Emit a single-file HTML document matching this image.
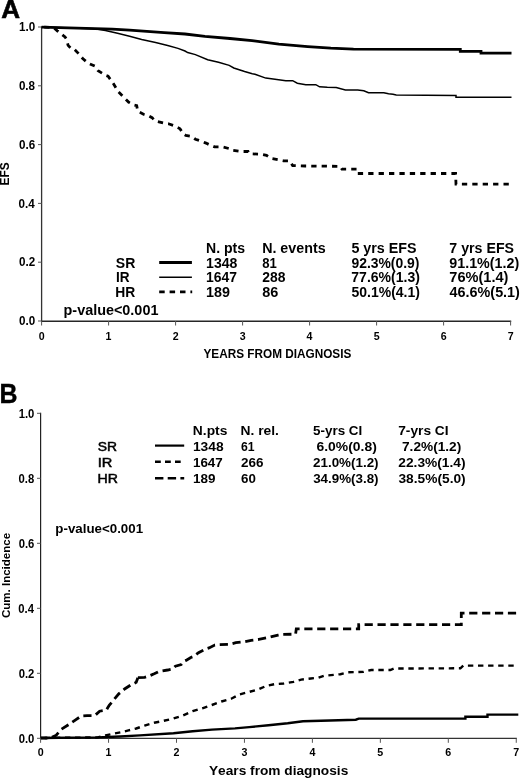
<!DOCTYPE html>
<html><head><meta charset="utf-8"><title>Chart</title>
<style>
html,body{margin:0;padding:0;background:#fff;}
body{width:520px;height:778px;overflow:hidden;}
svg{display:block;filter:grayscale(1);}
text{font-family:"Liberation Sans",sans-serif;fill:#000;font-kerning:none;}
.t{}
.n{stroke:#000;stroke-width:0.5px;}
</style></head>
<body>
<svg width="520" height="778" viewBox="0 0 520 778">
<rect x="0" y="0" width="520" height="778" fill="#fff"/>
<text x="1.25" y="17.8" font-size="26.6" font-weight="bold" textLength="18.84" lengthAdjust="spacingAndGlyphs" style="stroke:#000;stroke-width:0.6px">A</text>
<line x1="41.6" y1="26.5" x2="41.6" y2="321.6" stroke="#333" stroke-width="1.3"/>
<line x1="41" y1="321.2" x2="511.2" y2="321.2" stroke="#262626" stroke-width="1.4"/>
<line x1="38" y1="321" x2="41.6" y2="321" stroke="#555" stroke-width="1"/>
<text x="19" y="325.25" font-size="12" font-weight="bold" textLength="16.18" lengthAdjust="spacingAndGlyphs">0.0</text>
<line x1="38" y1="262.2" x2="41.6" y2="262.2" stroke="#555" stroke-width="1"/>
<text x="18.98" y="266.45" font-size="12" font-weight="bold" textLength="16.18" lengthAdjust="spacingAndGlyphs">0.2</text>
<line x1="38" y1="203.4" x2="41.6" y2="203.4" stroke="#555" stroke-width="1"/>
<text x="18.58" y="207.65" font-size="12" font-weight="bold" textLength="16.18" lengthAdjust="spacingAndGlyphs">0.4</text>
<line x1="38" y1="144.6" x2="41.6" y2="144.6" stroke="#555" stroke-width="1"/>
<text x="18.94" y="148.85" font-size="12" font-weight="bold" textLength="16.18" lengthAdjust="spacingAndGlyphs">0.6</text>
<line x1="38" y1="85.8" x2="41.6" y2="85.8" stroke="#555" stroke-width="1"/>
<text x="18.88" y="90.05" font-size="12" font-weight="bold" textLength="16.18" lengthAdjust="spacingAndGlyphs">0.8</text>
<line x1="38" y1="27" x2="41.6" y2="27" stroke="#555" stroke-width="1"/>
<text x="19" y="31.25" font-size="12" font-weight="bold" textLength="16.18" lengthAdjust="spacingAndGlyphs">1.0</text>
<line x1="41.6" y1="321" x2="41.6" y2="325.5" stroke="#555" stroke-width="1"/>
<text x="38.65" y="339.7" font-size="11.8" font-weight="bold" textLength="5.91" lengthAdjust="spacingAndGlyphs">0</text>
<line x1="108.6" y1="321" x2="108.6" y2="325.5" stroke="#555" stroke-width="1"/>
<text x="105.46" y="339.7" font-size="11.8" font-weight="bold" textLength="5.91" lengthAdjust="spacingAndGlyphs">1</text>
<line x1="175.6" y1="321" x2="175.6" y2="325.5" stroke="#555" stroke-width="1"/>
<text x="172.68" y="339.7" font-size="11.8" font-weight="bold" textLength="5.91" lengthAdjust="spacingAndGlyphs">2</text>
<line x1="242.6" y1="321" x2="242.6" y2="325.5" stroke="#555" stroke-width="1"/>
<text x="239.72" y="339.7" font-size="11.8" font-weight="bold" textLength="5.91" lengthAdjust="spacingAndGlyphs">3</text>
<line x1="309.6" y1="321" x2="309.6" y2="325.5" stroke="#555" stroke-width="1"/>
<text x="306.59" y="339.7" font-size="11.8" font-weight="bold" textLength="5.91" lengthAdjust="spacingAndGlyphs">4</text>
<line x1="376.6" y1="321" x2="376.6" y2="325.5" stroke="#555" stroke-width="1"/>
<text x="373.63" y="339.7" font-size="11.8" font-weight="bold" textLength="5.91" lengthAdjust="spacingAndGlyphs">5</text>
<line x1="443.6" y1="321" x2="443.6" y2="325.5" stroke="#555" stroke-width="1"/>
<text x="440.64" y="339.7" font-size="11.8" font-weight="bold" textLength="5.91" lengthAdjust="spacingAndGlyphs">6</text>
<line x1="510.6" y1="321" x2="510.6" y2="325.5" stroke="#555" stroke-width="1"/>
<text x="507.65" y="339.7" font-size="11.8" font-weight="bold" textLength="5.91" lengthAdjust="spacingAndGlyphs">7</text>
<text transform="rotate(-90)" x="-185.5" y="8.6" font-size="12" font-weight="bold" textLength="23.27" lengthAdjust="spacingAndGlyphs">EFS</text>
<text x="203.5" y="357.8" font-size="12.5" font-weight="bold" textLength="147.86" lengthAdjust="spacingAndGlyphs">YEARS FROM DIAGNOSIS</text>
<text x="206.06" y="252.5" font-size="13.9" font-weight="bold" textLength="39.02" lengthAdjust="spacingAndGlyphs" class="t">N. pts</text>
<text x="262.15" y="252.5" font-size="13.9" font-weight="bold" textLength="63.44" lengthAdjust="spacingAndGlyphs" class="t">N. events</text>
<text x="351.46" y="252.6" font-size="13.9" font-weight="bold" textLength="65.1" lengthAdjust="spacingAndGlyphs" class="t">5 yrs EFS</text>
<text x="449.39" y="252.5" font-size="13.9" font-weight="bold" textLength="64.66" lengthAdjust="spacingAndGlyphs" class="t">7 yrs EFS</text>
<text x="115.8" y="267.6" font-size="13.9" font-weight="bold" textLength="19.49" lengthAdjust="spacingAndGlyphs" class="t">SR</text>
<text x="115.89" y="282" font-size="13.9" font-weight="bold" textLength="13.59" lengthAdjust="spacingAndGlyphs" class="t">IR</text>
<text x="115.27" y="296.5" font-size="13.9" font-weight="bold" textLength="20.01" lengthAdjust="spacingAndGlyphs" class="t">HR</text>
<text x="206.11" y="267.6" font-size="13.9" font-weight="bold" textLength="31.32" lengthAdjust="spacingAndGlyphs" class="t">1348</text>
<text x="206.12" y="282" font-size="13.9" font-weight="bold" textLength="30.99" lengthAdjust="spacingAndGlyphs" class="t">1647</text>
<text x="206.1" y="296.5" font-size="13.9" font-weight="bold" textLength="23.94" lengthAdjust="spacingAndGlyphs" class="t">189</text>
<text x="262.28" y="267.6" font-size="13.9" font-weight="bold" textLength="14.58" lengthAdjust="spacingAndGlyphs" class="t">81</text>
<text x="262.22" y="282" font-size="13.9" font-weight="bold" textLength="23.21" lengthAdjust="spacingAndGlyphs" class="t">288</text>
<text x="262.24" y="296.5" font-size="13.9" font-weight="bold" textLength="16.08" lengthAdjust="spacingAndGlyphs" class="t">86</text>
<text x="351.42" y="267.6" font-size="13.9" font-weight="bold" textLength="68.08" lengthAdjust="spacingAndGlyphs" class="t">92.3%(0.9)</text>
<text x="351.3" y="282" font-size="13.9" font-weight="bold" textLength="68.6" lengthAdjust="spacingAndGlyphs" class="t">77.6%(1.3)</text>
<text x="351.47" y="296.5" font-size="13.9" font-weight="bold" textLength="68.43" lengthAdjust="spacingAndGlyphs" class="t">50.1%(4.1)</text>
<text x="449.3" y="267.6" font-size="13.9" font-weight="bold" textLength="69.91" lengthAdjust="spacingAndGlyphs" class="t">91.1%(1.2)</text>
<text x="449.37" y="282" font-size="13.9" font-weight="bold" textLength="59.05" lengthAdjust="spacingAndGlyphs" class="t">76%(1.4)</text>
<text x="449.58" y="296.5" font-size="13.9" font-weight="bold" textLength="70.33" lengthAdjust="spacingAndGlyphs" class="t">46.6%(5.1)</text>
<line x1="159.2" y1="262.6" x2="191.9" y2="262.6" stroke="#000" stroke-width="3"/>
<line x1="159.2" y1="277.2" x2="191.9" y2="277.2" stroke="#000" stroke-width="1.5"/>
<line x1="159.2" y1="291.8" x2="192.2" y2="291.8" stroke="#000" stroke-width="2.8" stroke-dasharray="5.5 4.9"/>
<text x="63.55" y="314.5" font-size="13.8" font-weight="bold" textLength="94.85" lengthAdjust="spacingAndGlyphs">p-value&lt;0.001</text>
<polyline points="41.6,27.1 53.5,27.5 57.3,30.8 65,36.9 66.5,39.2 68.1,45.4 71.2,48.5 74.2,49.2 78.1,53.1 82.7,58.5 88.1,63.1 95,66.2 98.1,70.8 105.8,75.4 108.1,76.2 113.5,83.8 118.1,91.5 124.2,97.7 128.8,102.3 133.5,104.8 136.7,105.6 137.7,111.3 143.5,114.2 149.2,116.2 152.1,117.7 155,121 158.8,121.9 165.6,123.5 168.5,123.8 174.2,125.8 180,128.7 182.9,133.5 185.8,135.4 191.5,136.3 195.4,139.2 201.2,141.2 206,143.1 210.8,145.4 214.6,146.9 222.3,146.9 230,148.8 231.2,150 241.9,151.5 248.1,151.5 249.6,153.8 260.4,154.2 266.5,155.4 271.2,158.5 283.5,160.8 289.6,160.8 292.7,165.6 305,166 340.2,166.3 342,169.2 357,169.2 357.5,173.5 455.6,173.5 456,184.2 509.8,184.2" fill="none" stroke="#000" stroke-width="2.8" stroke-linejoin="miter" stroke-linecap="butt" stroke-dasharray="5.3 5.1" stroke-dashoffset="7.76"/>
<polyline points="41.6,27.1 95,28.8 105.4,30.5 117.5,33.3 129.6,36.3 141.7,39.4 155.6,42.6 167.7,45.6 178,48.4 185,51 187.7,52.6 195.4,54.6 207.7,59.7 218.5,62.3 229.2,65.4 233.8,68 244.6,71.5 252.3,73.8 255,74.2 265.8,78.1 275,79.3 285.8,80.7 292.7,80.7 297.3,83.2 305.8,84.7 315.8,84.7 319.6,86.8 327.3,87.3 336.2,87.6 345.4,89.9 357.7,89.9 363.8,90.7 368.5,92.7 383.8,92.7 388.5,93.8 393,94.2 396.2,95 456,95.6 456,97.2 511.5,97.2" fill="none" stroke="#000" stroke-width="1.5" stroke-linejoin="miter" stroke-linecap="butt"/>
<polyline points="41.6,27.1 95,28.7 112.3,29.1 129.6,30.1 146.9,31.3 164.2,32.7 185,34 205,36.4 230,38.5 252,40.6 278.8,44.2 307.7,46.6 330.8,48.2 353.5,49.2 460.3,49.4 460.3,51.3 481,51.3 481,53.1 511.5,53.1" fill="none" stroke="#000" stroke-width="2.8" stroke-linejoin="miter" stroke-linecap="butt"/>
<text x="-0.57" y="403.3" font-size="27" font-weight="bold" textLength="18" lengthAdjust="spacingAndGlyphs" style="stroke:#000;stroke-width:0.4px">B</text>
<line x1="40.6" y1="412.8" x2="40.6" y2="738.9" stroke="#222" stroke-width="1.2"/>
<line x1="40" y1="738.3" x2="516.85" y2="738.3" stroke="#333" stroke-width="1.3"/>
<line x1="37" y1="738.3" x2="40.6" y2="738.3" stroke="#555" stroke-width="1"/>
<text x="18.68" y="742.55" font-size="12" font-weight="bold" textLength="15.68" lengthAdjust="spacingAndGlyphs">0.0</text>
<line x1="37" y1="673.3" x2="40.6" y2="673.3" stroke="#555" stroke-width="1"/>
<text x="18.67" y="677.55" font-size="12" font-weight="bold" textLength="15.68" lengthAdjust="spacingAndGlyphs">0.2</text>
<line x1="37" y1="608.3" x2="40.6" y2="608.3" stroke="#555" stroke-width="1"/>
<text x="18.28" y="612.55" font-size="12" font-weight="bold" textLength="15.68" lengthAdjust="spacingAndGlyphs">0.4</text>
<line x1="37" y1="543.3" x2="40.6" y2="543.3" stroke="#555" stroke-width="1"/>
<text x="18.63" y="547.55" font-size="12" font-weight="bold" textLength="15.68" lengthAdjust="spacingAndGlyphs">0.6</text>
<line x1="37" y1="478.3" x2="40.6" y2="478.3" stroke="#555" stroke-width="1"/>
<text x="18.57" y="482.55" font-size="12" font-weight="bold" textLength="15.68" lengthAdjust="spacingAndGlyphs">0.8</text>
<line x1="37" y1="413.3" x2="40.6" y2="413.3" stroke="#555" stroke-width="1"/>
<text x="18.68" y="417.55" font-size="12" font-weight="bold" textLength="15.68" lengthAdjust="spacingAndGlyphs">1.0</text>
<line x1="40.6" y1="738.3" x2="40.6" y2="742.8" stroke="#555" stroke-width="1"/>
<text x="37.64" y="755.8" font-size="11.6" font-weight="bold" textLength="5.94" lengthAdjust="spacingAndGlyphs">0</text>
<line x1="108.55" y1="738.3" x2="108.55" y2="742.8" stroke="#555" stroke-width="1"/>
<text x="105.39" y="755.8" font-size="11.6" font-weight="bold" textLength="5.94" lengthAdjust="spacingAndGlyphs">1</text>
<line x1="176.5" y1="738.3" x2="176.5" y2="742.8" stroke="#555" stroke-width="1"/>
<text x="173.56" y="755.8" font-size="11.6" font-weight="bold" textLength="5.94" lengthAdjust="spacingAndGlyphs">2</text>
<line x1="244.45" y1="738.3" x2="244.45" y2="742.8" stroke="#555" stroke-width="1"/>
<text x="241.55" y="755.8" font-size="11.6" font-weight="bold" textLength="5.94" lengthAdjust="spacingAndGlyphs">3</text>
<line x1="312.4" y1="738.3" x2="312.4" y2="742.8" stroke="#555" stroke-width="1"/>
<text x="309.38" y="755.8" font-size="11.6" font-weight="bold" textLength="5.94" lengthAdjust="spacingAndGlyphs">4</text>
<line x1="380.35" y1="738.3" x2="380.35" y2="742.8" stroke="#555" stroke-width="1"/>
<text x="377.37" y="755.8" font-size="11.6" font-weight="bold" textLength="5.94" lengthAdjust="spacingAndGlyphs">5</text>
<line x1="448.3" y1="738.3" x2="448.3" y2="742.8" stroke="#555" stroke-width="1"/>
<text x="445.33" y="755.8" font-size="11.6" font-weight="bold" textLength="5.94" lengthAdjust="spacingAndGlyphs">6</text>
<line x1="516.25" y1="738.3" x2="516.25" y2="742.8" stroke="#555" stroke-width="1"/>
<text x="513.29" y="755.8" font-size="11.6" font-weight="bold" textLength="5.94" lengthAdjust="spacingAndGlyphs">7</text>
<text transform="rotate(-90)" x="-618.07" y="9.5" font-size="11.6" font-weight="bold" textLength="85.17" lengthAdjust="spacingAndGlyphs">Cum. Incidence</text>
<text x="208.97" y="775.4" font-size="13.4" font-weight="bold" textLength="139.3" lengthAdjust="spacingAndGlyphs">Years from diagnosis</text>
<text x="192.88" y="434.5" font-size="13.4" font-weight="bold" textLength="34.49" lengthAdjust="spacingAndGlyphs" class="t">N.pts</text>
<text x="240.58" y="434.5" font-size="13.4" font-weight="bold" textLength="38.37" lengthAdjust="spacingAndGlyphs" class="t">N. rel.</text>
<text x="313.09" y="434.5" font-size="13.4" font-weight="bold" textLength="49.21" lengthAdjust="spacingAndGlyphs" class="t">5-yrs CI</text>
<text x="398.21" y="434.5" font-size="13.4" font-weight="bold" textLength="50.41" lengthAdjust="spacingAndGlyphs" class="t">7-yrs CI</text>
<text x="97.87" y="450.6" font-size="13.2" font-weight="normal" textLength="19.27" lengthAdjust="spacingAndGlyphs" stroke="#000" stroke-width="0.4" class="n">SR</text>
<text x="97.65" y="466.8" font-size="13.2" font-weight="normal" textLength="14.63" lengthAdjust="spacingAndGlyphs" stroke="#000" stroke-width="0.4" class="n">IR</text>
<text x="97.64" y="483.2" font-size="13.2" font-weight="normal" textLength="20.42" lengthAdjust="spacingAndGlyphs" stroke="#000" stroke-width="0.4" class="n">HR</text>
<text x="192.93" y="450.6" font-size="13.4" font-weight="bold" textLength="30.69" lengthAdjust="spacingAndGlyphs" class="t">1348</text>
<text x="192.96" y="466.8" font-size="13.4" font-weight="bold" textLength="29.83" lengthAdjust="spacingAndGlyphs" class="t">1647</text>
<text x="192.95" y="483.2" font-size="13.4" font-weight="bold" textLength="22.45" lengthAdjust="spacingAndGlyphs" class="t">189</text>
<text x="241.05" y="450.6" font-size="13.4" font-weight="bold" textLength="13.59" lengthAdjust="spacingAndGlyphs" class="t">61</text>
<text x="241.03" y="466.8" font-size="13.4" font-weight="bold" textLength="22.45" lengthAdjust="spacingAndGlyphs" class="t">266</text>
<text x="241.01" y="483.2" font-size="13.4" font-weight="bold" textLength="14.84" lengthAdjust="spacingAndGlyphs" class="t">60</text>
<text x="316.49" y="450.6" font-size="13.4" font-weight="bold" textLength="60.3" lengthAdjust="spacingAndGlyphs" class="t">6.0%(0.8)</text>
<text x="313.04" y="466.8" font-size="13.4" font-weight="bold" textLength="65.53" lengthAdjust="spacingAndGlyphs" class="t">21.0%(1.2)</text>
<text x="313.19" y="483.2" font-size="13.4" font-weight="bold" textLength="65.37" lengthAdjust="spacingAndGlyphs" class="t">34.9%(3.8)</text>
<text x="402.01" y="450.6" font-size="13.4" font-weight="bold" textLength="59.27" lengthAdjust="spacingAndGlyphs" class="t">7.2%(1.2)</text>
<text x="398.32" y="466.8" font-size="13.4" font-weight="bold" textLength="67.26" lengthAdjust="spacingAndGlyphs" class="t">22.3%(1.4)</text>
<text x="398.48" y="483.2" font-size="13.4" font-weight="bold" textLength="67.2" lengthAdjust="spacingAndGlyphs" class="t">38.5%(5.0)</text>
<line x1="155" y1="445.6" x2="184.2" y2="445.6" stroke="#000" stroke-width="2.2"/>
<line x1="155" y1="461.8" x2="180.7" y2="461.8" stroke="#000" stroke-width="2.6" stroke-dasharray="5.8 4.2"/>
<line x1="155" y1="478.3" x2="184.2" y2="478.3" stroke="#000" stroke-width="2.6" stroke-dasharray="8.4 4.3"/>
<text x="55.32" y="533.2" font-size="13.2" font-weight="bold" textLength="87.75" lengthAdjust="spacingAndGlyphs">p-value&lt;0.001</text>
<polyline points="40.9,738 50.6,738 56.3,735.2 61.2,729.4 68.8,724.6 75.6,719.8 81.3,716 87.1,715.6 94.8,715.6 99.6,711.2 106.3,710.2 109.2,705.4 114,699.6 118.8,693.8 124.6,689 130.4,685.2 136.2,682.3 137.9,677.7" fill="none" stroke="#000" stroke-width="2.8" stroke-linejoin="miter" stroke-linecap="butt" stroke-dasharray="8.2 4.7" stroke-dashoffset="1.75"/>
<polyline points="137.9,677.7 144.6,677.3 149.4,675.8 154.2,673.8 158.1,671.9 161.9,671 167.7,670 172.5,669 175.4,666.2 181.2,664.6 184,661.3 186,660.4 190.8,657.5 193.7,656.5 198.5,652.7 202.3,650.8 206.2,648.8 209,647.9 214.8,645 219.6,644.6 230,644.2 235.8,642.7 243.5,641.9 251.2,640.4 258.8,639.4 268.5,637.5 278,635.2 283,634.3 295.6,634.2 296.3,628.8 358.7,628.8 358.7,624.6 461.3,624.6 461.3,613.1 516.2,613.1" fill="none" stroke="#000" stroke-width="2.8" stroke-linejoin="miter" stroke-linecap="butt" stroke-dasharray="8.2 4.7" stroke-dashoffset="12.85"/>
<polyline points="40.9,738 97.7,737.4 105.4,735.4 113,733.8 120.8,732.3 128.5,730.4 136.2,728.5 144.6,725.6 154.2,722.7 163.8,720.8 173.5,718.5 183.1,715.4 192.7,711.2 202.3,708.3 211.9,705 221.5,701.5 231.2,698.7 239.6,694.4 249.2,691.9 258.8,689.2 266.5,685.8 274.2,684.2 283.8,683.5 293.5,681.9 301.2,679.6 310.8,678.5 318.5,677.7 324.2,675.8 340.4,674.2 348.1,672.3 363.5,671.9 371.2,670 390.4,670 394.2,668.5 460.4,668.3 463.3,665.6 514.2,665.6" fill="none" stroke="#000" stroke-width="2.4" stroke-linejoin="miter" stroke-linecap="butt" stroke-dasharray="5.4 4.7" stroke-dashoffset="6.23"/>
<polyline points="40.9,738 97.7,737.4 120,736.5 140,735.4 173.5,733.3 192.7,731.3 211.9,729.6 235,728.4 249.2,727.1 268.5,725.2 287.7,723.3 303,721.3 330,720.5 355.8,719.7 358.7,718.6 465.4,718.5 465.4,716.7 487.5,716.7 487.5,714.6 518.3,714.6" fill="none" stroke="#000" stroke-width="2.4" stroke-linejoin="miter" stroke-linecap="butt"/>
</svg>
</body></html>
